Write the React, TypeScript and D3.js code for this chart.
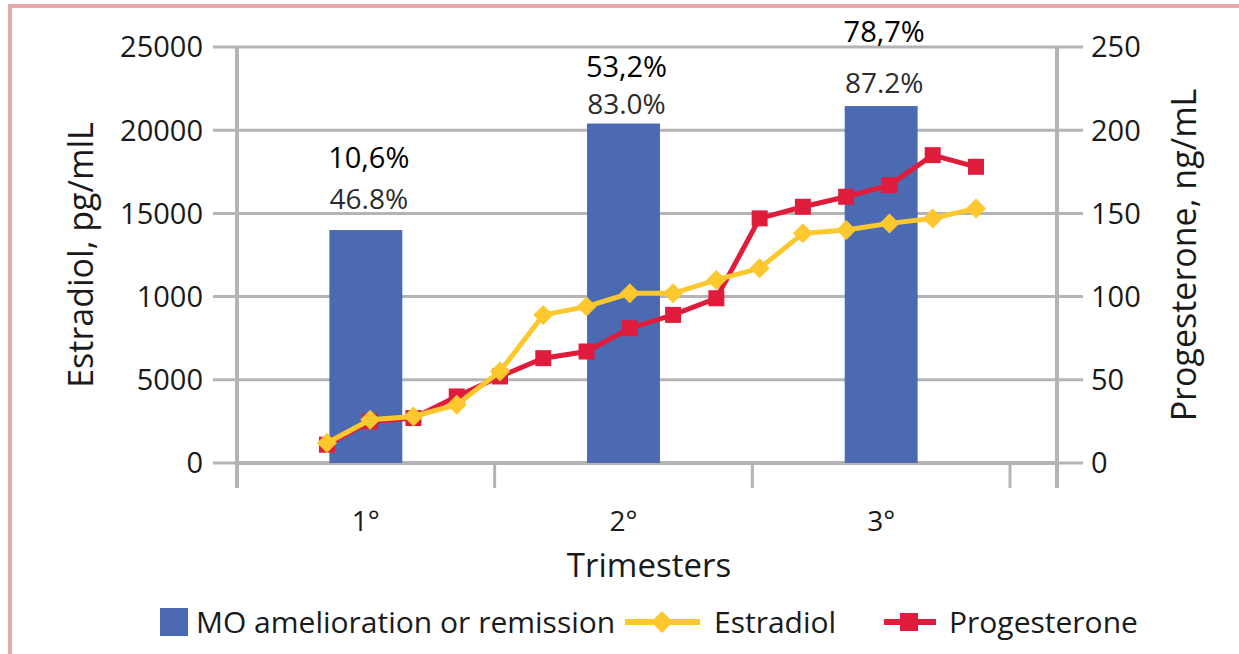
import React from 'react'
import * as d3 from 'd3'

const trimesters = ['1°', '2°', '3°']
const remission = [14000, 20400, 21450]
const remissionLabels = ['46.8%', '83.0%', '87.2%']
const reportedLabels = ['10,6%', '53,2%', '78,7%']
const estradiol = [1200, 2600, 2800, 3500, 5500, 8900, 9400, 10200, 10200, 11000, 11700, 13800, 14000, 14400, 14700, 15300]
const progesterone = [11, 25, 27, 40, 52, 63, 67, 81, 89, 99, 147, 154, 160, 167, 185, 178]
const leftTicks = [0, 5000, 10000, 15000, 20000, 25000]
const leftTickLabels = ['0', '5000', '1000', '15000', '20000', '25000']
const rightTicks = [0, 50, 100, 150, 200, 250]

const font = "'Open Sans', sans-serif"
const grid = '#b4b4b4'
const blue = '#4b6ab1'
const yellow = '#fcc82e'
const red = '#e01c3c'
const ink = '#1a1a1a'

// label offsets above the bar tops
const innerOffset = [21, 10, 13]
const outerOffset = [62, 47, 64]

export default function App () {
  const left = 237
  const right = 1057
  const top = 47
  const bottom = 463

  const x = d3.scaleBand().domain(trimesters).range([left, 1010])
  const bw = x.bandwidth()
  const barW = bw * 0.283
  const yL = d3.scaleLinear().domain([0, 25000]).range([bottom, top])
  const yR = d3.scaleLinear().domain([0, 250]).range([bottom, top])
  const x0 = x(trimesters[0]) as number
  const xl = d3.scaleLinear().domain([0, estradiol.length - 1]).range([x0 + 0.349 * bw, x0 + 2.868 * bw])

  const estLine = d3.line<number>().x((d, i) => xl(i)).y(d => yL(d))
  const proLine = d3.line<number>().x((d, i) => xl(i)).y(d => yR(d))

  const diamond = (cx: number, cy: number, r: number) =>
    `M${cx},${cy - r}L${cx + r},${cy}L${cx},${cy + r}L${cx - r},${cy}Z`

  return (
    <svg width={1239} height={654} style={{ position: 'absolute', left: 0, top: 0 }} fontFamily={font}>
      <rect width={1239} height={654} fill='#fff' />
      {/* border */}
      <path d='M10,654V6H1239' fill='none' stroke='#e5aaa9' strokeWidth={4} />

      {/* gridlines and axes */}
      {leftTicks.map(t => (
        <line key={t} x1={213} x2={1083} y1={yL(t)} y2={yL(t)} stroke={grid} strokeWidth={3} />
      ))}
      <line x1={left} x2={left} y1={top} y2={488} stroke={grid} strokeWidth={4} />
      <line x1={right} x2={right} y1={top} y2={488} stroke={grid} strokeWidth={4} />
      <line x1={left} x2={right} y1={bottom} y2={bottom} stroke={grid} strokeWidth={4} />
      {[0, 1, 2, 3].map(i => (
        <line key={i} x1={x0 + i * bw} x2={x0 + i * bw} y1={bottom} y2={488} stroke={grid} strokeWidth={3} />
      ))}

      {leftTicks.map((t, i) => (
        <text key={t} x={203} y={yL(t)} dy='0.36em' textAnchor='end' fontSize={29} fill={ink}>{leftTickLabels[i]}</text>
      ))}
      {rightTicks.map(t => (
        <text key={t} x={1091} y={yR(t)} dy='0.36em' fontSize={29} fill={ink}>{t}</text>
      ))}
      <text transform='translate(93,255) rotate(-90)' textAnchor='middle' fontSize={34} fill={ink}>Estradiol, pg/mlL</text>
      <text transform='translate(1196,255) rotate(-90)' textAnchor='middle' fontSize={34} fill={ink}>Progesterone, ng/mL</text>

      {trimesters.map(t => (
        <text key={t} x={(x(t) as number) + bw / 2} y={531} textAnchor='middle' fontSize={28} fill={ink}>{t}</text>
      ))}
      <text x={649} y={577} textAnchor='middle' fontSize={33} fill={ink}>Trimesters</text>

      {/* bars */}
      {trimesters.map((t, i) => {
        const cx = (x(t) as number) + bw / 2
        return (
          <g key={t}>
            <rect x={cx - barW / 2} width={barW} y={yL(remission[i])} height={bottom - yL(remission[i])} fill={blue} />
            <text x={cx + 3} y={yL(remission[i]) - innerOffset[i]} textAnchor='middle' fontSize={28} fill='#2b2b2b'>{remissionLabels[i]}</text>
            <text x={cx + 3} y={yL(remission[i]) - outerOffset[i]} textAnchor='middle' fontSize={29} fill='#000'>{reportedLabels[i]}</text>
          </g>
        )
      })}

      {/* progesterone */}
      <path d={proLine(progesterone) as string} fill='none' stroke={red} strokeWidth={5} />
      {progesterone.map((d, i) => (
        <rect key={i} x={xl(i) - 8} y={yR(d) - 8} width={16} height={16} fill={red} />
      ))}

      {/* estradiol */}
      <path d={estLine(estradiol) as string} fill='none' stroke={yellow} strokeWidth={5} />
      {estradiol.map((d, i) => (
        <path key={i} d={diamond(xl(i), yL(d), 10)} fill={yellow} />
      ))}

      {/* legend */}
      <rect x={160} y={608} width={28} height={28} fill={blue} />
      <text x={196} y={622} dy='0.36em' fontSize={30} fill={ink}>MO amelioration or remission</text>
      <line x1={625} x2={700} y1={622} y2={622} stroke={yellow} strokeWidth={6} />
      <path d={diamond(662, 622, 11)} fill={yellow} />
      <text x={714} y={622} dy='0.36em' fontSize={30} fill={ink}>Estradiol</text>
      <line x1={884} x2={936} y1={622} y2={622} stroke={red} strokeWidth={6} />
      <rect x={900} y={613} width={18} height={18} fill={red} />
      <text x={949} y={622} dy='0.36em' fontSize={30} fill={ink}>Progesterone</text>
    </svg>
  )
}
